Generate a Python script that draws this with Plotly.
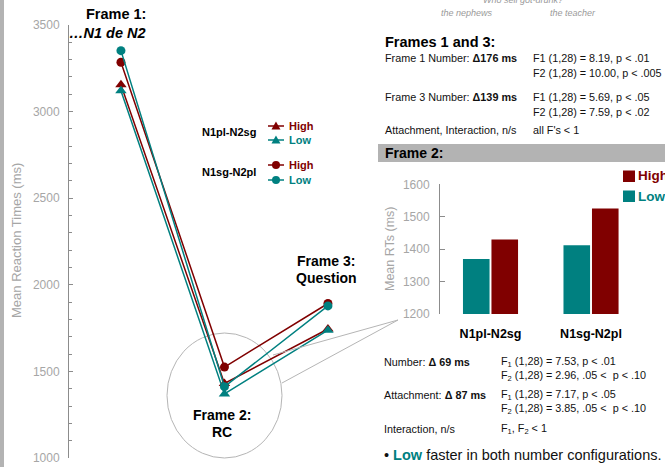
import plotly.graph_objects as go

W, H = 665, 467
RED = "#800000"
TEAL = "#008080"
GRAY_TXT = "#a6a6a6"
AXIS_GRAY = "#8c8c8c"
FONT = "Arial, Liberation Sans, sans-serif"

# ---------------- data ----------------
frames = ["Frame 1", "Frame 2", "Frame 3"]
n1pl_n2sg_high = [3155, 1430, 1745]
n1pl_n2sg_low = [3120, 1370, 1738]
n1sg_n2pl_high = [3285, 1525, 1892]
n1sg_n2pl_low = [3352, 1412, 1878]

bar_categories = ["N1pl-N2sg", "N1sg-N2pl"]
bar_low = [1370, 1412]
bar_high = [1430, 1525]

left_ticks = [1000, 1500, 2000, 2500, 3000, 3500]
bar_ticks = [1200, 1300, 1400, 1500, 1600]


def fx(p):
    return p / W


def fy(p):
    return 1 - p / H


fig = go.Figure()

line_series = [
    (n1pl_n2sg_high, RED, "triangle-up", 10),
    (n1pl_n2sg_low, TEAL, "triangle-up", 10),
    (n1sg_n2pl_high, RED, "circle", 9),
    (n1sg_n2pl_low, TEAL, "circle", 9),
]
for vals, col, sym, sz in line_series:
    fig.add_trace(go.Scatter(
        x=frames, y=vals, mode="lines+markers",
        line=dict(color=col, width=1.5),
        marker=dict(symbol=sym, size=sz, color=col),
        xaxis="x", yaxis="y", hoverinfo="skip"))

fig.add_trace(go.Bar(x=bar_categories, y=bar_low, marker=dict(color=TEAL, line=dict(width=0)),
                     xaxis="x2", yaxis="y2", name="Low", hoverinfo="skip"))
fig.add_trace(go.Bar(x=bar_categories, y=bar_high, marker=dict(color=RED, line=dict(width=0)),
                     xaxis="x2", yaxis="y2", name="High", hoverinfo="skip"))

shapes = []
# left gray strip
shapes.append(dict(type="rect", xref="paper", yref="paper", x0=0, x1=fx(4), y0=0, y1=1,
                   fillcolor="#b3b3b3", line=dict(width=0), layer="below"))
# ellipse around frame 2
shapes.append(dict(type="circle", xref="paper", yref="paper", x0=fx(167), x1=fx(282),
                   y0=fy(458), y1=fy(333), line=dict(color="#b5b5b5", width=1), layer="below"))
# callout lines
for (ax0, ay0) in [(273, 355), (282, 383)]:
    shapes.append(dict(type="line", xref="paper", yref="paper", x0=fx(ax0), y0=fy(ay0),
                       x1=fx(398), y1=fy(320), line=dict(color="#b5b5b5", width=1)))
# Frame 2 gray band
shapes.append(dict(type="rect", xref="paper", yref="paper", x0=fx(378), x1=1,
                   y0=fy(162), y1=fy(144), fillcolor="#b3b3b3", line=dict(width=0), layer="below"))


def tri(cx, cy, col):
    pts = [(cx - 4.5, cy + 3.5), (cx + 4.5, cy + 3.5), (cx, cy - 4.5)]
    path = "M " + " L ".join(f"{fx(a):.5f},{fy(b):.5f}" for a, b in pts) + " Z"
    return dict(type="path", xref="paper", yref="paper", path=path,
                fillcolor=col, line=dict(color=col, width=0))


def circ(cx, cy, col, r=4):
    return dict(type="circle", xref="paper", yref="paper", x0=fx(cx - r), x1=fx(cx + r),
                y0=fy(cy + r), y1=fy(cy - r), fillcolor=col, line=dict(color=col, width=0))


def seg(cy, col):
    return dict(type="line", xref="paper", yref="paper", x0=fx(268), x1=fx(284),
                y0=fy(cy), y1=fy(cy), line=dict(color=col, width=1.5))


shapes += [seg(126, RED), tri(276, 126, RED), seg(140, TEAL), tri(276, 140, TEAL),
           seg(165, RED), circ(276, 165, RED), seg(180, TEAL), circ(276, 180, TEAL)]
# bar legend squares
shapes.append(dict(type="rect", xref="paper", yref="paper", x0=fx(623), x1=fx(635),
                   y0=fy(182), y1=fy(170.5), fillcolor=RED, line=dict(width=0)))
shapes.append(dict(type="rect", xref="paper", yref="paper", x0=fx(623), x1=fx(635),
                   y0=fy(202), y1=fy(190.5), fillcolor=TEAL, line=dict(width=0)))

ann = []


def T(text, x, y, size=10.8, color="#111111", anchor="left", angle=0):
    ann.append(dict(text=text, x=fx(x), y=fy(y), xref="paper", yref="paper",
                    xanchor=anchor, yanchor="middle", showarrow=False, textangle=angle,
                    font=dict(family=FONT, size=size, color=color)))


# left chart labels
T("<b>Frame 1:</b>", 148, 14, 14.5, "#000", "right")
T("<b><i>…N1 de N2</i></b>", 148, 33, 14.5, "#000", "right")
T("<b>Frame 3:</b>", 326, 261, 14, "#000", "center")
T("<b>Question</b>", 326, 278, 14, "#000", "center")
T("<b>Frame 2:</b>", 222, 415, 14, "#000", "center")
T("<b>RC</b>", 222, 432, 14, "#000", "center")
T("Mean Reaction Times (ms)", 16, 241, 13, GRAY_TXT, "center", -90)
# left legend
T("<b>N1pl-N2sg</b>", 258, 132, 11, "#000", "right")
T("<b>High</b>", 287, 126, 11, RED)
T("<b>Low</b>", 287, 140, 11, TEAL)
T("<b>N1sg-N2pl</b>", 258, 172, 11, "#000", "right")
T("<b>High</b>", 287, 165, 11, RED)
T("<b>Low</b>", 287, 180, 11, TEAL)

# top question text
T("<i>Who sell got-drunk?</i>", 523, 0, 9, "#9a9a9a", "center")
T("<i>the nephews</i>", 467, 13, 9, "#9a9a9a", "center")
T("<i>the teacher</i>", 573, 13, 9, "#9a9a9a", "center")

# frames 1 and 3 stats
T("<b>Frames 1 and 3:</b>", 383, 42, 14.5, "#000")
T("Frame 1 Number: <b>Δ176 ms</b>", 383, 58)
T("F1 (1,28) = 8.19, p &lt; .01", 531, 58)
T("F2 (1,28) = 10.00, p &lt; .005", 531, 73)
T("Frame 3 Number: <b>Δ139 ms</b>", 383, 97)
T("F1 (1,28) = 5.69, p &lt; .05", 531, 97)
T("F2 (1,28) = 7.59, p &lt; .02", 531, 112)
T("Attachment, Interaction, n/s", 383, 130)
T("all F's &lt; 1", 531, 130)
T("<b>Frame 2:</b>", 383, 153, 14, "#000")

# bar chart extras
T("Mean RTs (ms)", 390, 249, 12.5, GRAY_TXT, "center", -90)
T("<b>High</b>", 636, 176, 13.5, RED)
T("<b>Low</b>", 636, 196, 13.5, TEAL)

# frame 2 stats
T("Number: <b>Δ 69 ms</b>", 382, 362)
T("F<sub>1</sub> (1,28) = 7.53, p &lt; .01", 499, 362)
T("F<sub>2</sub> (1,28) = 2.96, .05 &lt;  p &lt; .10", 499, 376)
T("Attachment: <b>Δ 87 ms</b>", 382, 395)
T("F<sub>1</sub> (1,28) = 7.17, p &lt; .05", 499, 395)
T("F<sub>2</sub> (1,28) = 3.85, .05 &lt;  p &lt; .10", 499, 409)
T("Interaction, n/s", 382, 429)
T("F<sub>1</sub>, F<sub>2</sub> &lt; 1", 499, 429)
T("• <b><span style='color:#008080'>Low</span></b> faster in both number configurations.",
  382, 455, 14.5, "#111111")

fig.update_layout(
    width=W, height=H,
    margin=dict(l=0, r=0, t=0, b=0, pad=0, autoexpand=False),
    paper_bgcolor="white", plot_bgcolor="rgba(0,0,0,0)",
    showlegend=False, hovermode=False,
    font=dict(family=FONT),
    barmode="group", bargap=0.433, bargroupgap=0.067,
    shapes=shapes, annotations=ann,
    xaxis=dict(domain=[fx(69), fx(380)], type="category", categoryorder="array",
               categoryarray=frames, range=[-0.502, 2.503], visible=False, automargin=False),
    yaxis=dict(domain=[fy(458), fy(25)], range=[1000, 3500], tickvals=left_ticks,
               showline=True, linecolor=AXIS_GRAY, linewidth=1, ticks="inside", ticklen=4,
               tickcolor=AXIS_GRAY, showgrid=False, zeroline=False, automargin=False,
               minor=dict(dtick=100, ticks="inside", ticklen=3, tickcolor=AXIS_GRAY, showgrid=False),
               tickfont=dict(size=12, color=GRAY_TXT), ticklabelstandoff=6),
    xaxis2=dict(domain=[fx(440), 1], type="category", categoryorder="array",
                categoryarray=bar_categories, range=[-0.5025, 1.736], anchor="y2",
                showline=False, ticks="", showgrid=False, zeroline=False, automargin=False,
                tickfont=dict(size=12.5, color="#000"), tickprefix="<b>", ticksuffix="</b>",
                ticklabelstandoff=10),
    yaxis2=dict(domain=[fy(314), fy(184.3)], range=[1200, 1600], tickvals=bar_ticks,
                anchor="x2", showline=True, linecolor=AXIS_GRAY, linewidth=1, ticks="inside",
                ticklen=5, tickcolor=AXIS_GRAY, showgrid=False, zeroline=False, automargin=False,
                tickfont=dict(size=12, color=GRAY_TXT), ticklabelstandoff=7),
)

fig.write_html("out.html", config={"displayModeBar": False, "staticPlot": True},
               post_script="document.body.style.margin='0px';document.body.style.overflow='hidden';")
